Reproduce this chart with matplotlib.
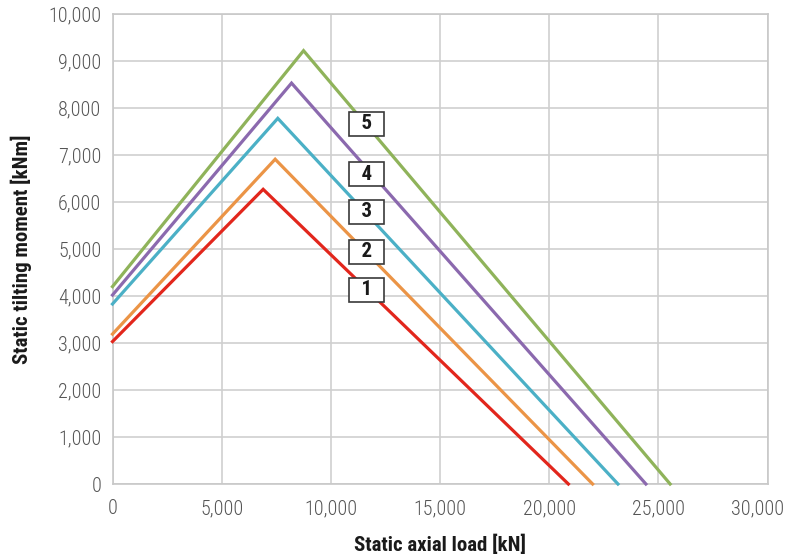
import matplotlib
matplotlib.use("Agg")
import matplotlib.pyplot as plt
from matplotlib.ticker import FuncFormatter, MultipleLocator

# Data: each curve = start (x=0), peak, end (y=0)
curve_names = ["1", "2", "3", "4", "5"]
x_points = {
    "1": [0, 6900, 20880],
    "2": [0, 7450, 21990],
    "3": [0, 7570, 23150],
    "4": [0, 8200, 24430],
    "5": [0, 8750, 25540],
}
y_points = {
    "1": [3030, 6270, 0],
    "2": [3190, 6910, 0],
    "3": [3830, 7780, 0],
    "4": [4020, 8530, 0],
    "5": [4200, 9220, 0],
}
colors = {"1": "#e2261c", "2": "#eb9446", "3": "#4bb0c6", "4": "#8b69ae", "5": "#8fb35a"}
label_x = 11650
label_y = {"1": 4130, "2": 4940, "3": 5790, "4": 6590, "5": 7660}
x_max = 30000
y_max = 10000

fig = plt.figure(figsize=(7.88, 5.55), dpi=100)
ax = fig.add_axes([112.5/788, 71/555, 655/788, 470/555])

fam = ["Roboto Condensed", "DejaVu Sans"]
for n in curve_names:
    ax.plot(x_points[n], y_points[n], color=colors[n], lw=2.3, solid_joinstyle="miter", zorder=3, clip_on=False)

for n in curve_names:
    ax.text(label_x, label_y[n], "  " + n + "  ", ha="center", va="center", fontsize=15, fontweight="bold",
            family=fam, color="#1a1a1a", zorder=5,
            bbox=dict(boxstyle="square,pad=0.13", fc="white", ec="#3a3a3a", lw=1.2))

ax.set_xlim(0, x_max)
ax.set_ylim(0, y_max)
ax.xaxis.set_major_locator(MultipleLocator(5000))
ax.yaxis.set_major_locator(MultipleLocator(1000))
ax.xaxis.set_major_formatter(FuncFormatter(lambda v, p: "" if v >= x_max else f"{int(v):,}"))
ax.yaxis.set_major_formatter(FuncFormatter(lambda v, p: f"{int(v):,}"))
ax.grid(True, color="#cfcfcf", lw=1.2, zorder=0)
ax.set_axisbelow(True)
for s in ax.spines.values():
    s.set_color("#c8c8c8")
    s.set_linewidth(1.2)
ax.tick_params(axis="y", length=0, pad=8)
ax.tick_params(axis="x", length=0, pad=11)
tick_style = dict(family=fam, fontweight=300, fontsize=14.5, color="#555555")
for lab in ax.get_xticklabels() + ax.get_yticklabels():
    lab.set_family(fam)
    lab.set_fontweight(300)
    lab.set_fontsize(14.5)
    lab.set_color("#555555")

# last x tick label, nudged inward so it stays inside the figure
ax.annotate(f"{x_max:,}", xy=(x_max, 0), xycoords="data", xytext=(-7, -11), textcoords="offset points",
            ha="center", va="top", annotation_clip=False, **tick_style)

ax.set_xlabel("Static axial load [kN]", fontsize=15, fontweight="bold", family=fam, color="#1a1a1a", labelpad=12)
ax.set_ylabel("Static tilting moment [kNm]", fontsize=15, fontweight="bold", family=fam, color="#1a1a1a", labelpad=12)

fig.savefig("out.png", dpi=100)
